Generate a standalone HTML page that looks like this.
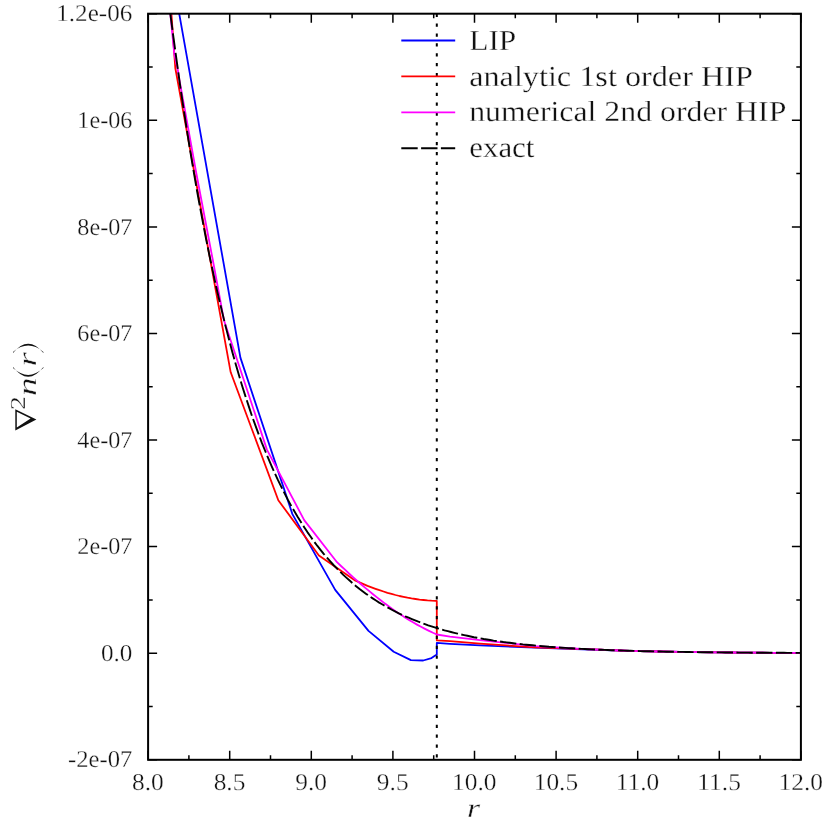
<!DOCTYPE html>
<html><head><meta charset="utf-8"><title>plot</title>
<style>html,body{margin:0;padding:0;background:#fff;}svg{display:block;will-change:transform;}text{text-rendering:geometricPrecision;font-family:"Liberation Serif",serif;fill:#111;stroke:#fff;stroke-width:0.3;}</style></head><body>
<svg width="830" height="830" viewBox="0 0 830 830">
<rect x="0" y="0" width="830" height="830" fill="#fff"/>
<defs><clipPath id="c"><rect x="148.1" y="13.7" width="652.8" height="746.1"/></clipPath></defs>
<path d="M148.1 759.8V750.8M148.1 13.7V22.7M188.9 759.8V755.2M188.9 13.7V18.3M229.7 759.8V750.8M229.7 13.7V22.7M270.5 759.8V755.2M270.5 13.7V18.3M311.3 759.8V750.8M311.3 13.7V22.7M352.1 759.8V755.2M352.1 13.7V18.3M392.9 759.8V750.8M392.9 13.7V22.7M433.7 759.8V755.2M433.7 13.7V18.3M474.5 759.8V750.8M474.5 13.7V22.7M515.3 759.8V755.2M515.3 13.7V18.3M556.1 759.8V750.8M556.1 13.7V22.7M596.9 759.8V755.2M596.9 13.7V18.3M637.7 759.8V750.8M637.7 13.7V22.7M678.5 759.8V755.2M678.5 13.7V18.3M719.3 759.8V750.8M719.3 13.7V22.7M760.1 759.8V755.2M760.1 13.7V18.3M800.9 759.8V750.8M800.9 13.7V22.7M148.1 759.8H157.1M800.9 759.8H791.9M148.1 706.5H152.7M800.9 706.5H796.3M148.1 653.2H157.1M800.9 653.2H791.9M148.1 599.9H152.7M800.9 599.9H796.3M148.1 546.6H157.1M800.9 546.6H791.9M148.1 493.3H152.7M800.9 493.3H796.3M148.1 440.0H157.1M800.9 440.0H791.9M148.1 386.8H152.7M800.9 386.8H796.3M148.1 333.5H157.1M800.9 333.5H791.9M148.1 280.2H152.7M800.9 280.2H796.3M148.1 226.9H157.1M800.9 226.9H791.9M148.1 173.6H152.7M800.9 173.6H796.3M148.1 120.3H157.1M800.9 120.3H791.9M148.1 67.0H152.7M800.9 67.0H796.3M148.1 13.7H157.1M800.9 13.7H791.9" stroke="#000" stroke-width="1.5" fill="none"/>
<g clip-path="url(#c)" fill="none" stroke-linejoin="round">
<polyline points="172.3,-25.0 179.2,13.7 240.4,357.6 292.4,514.1 335.2,589.9 368.5,630.9 393.7,651.7 410.9,660.1 423.2,660.5 431.5,658.1 436.8,654.4 436.8,642.9 450.0,643.8 480.0,645.4 535.0,647.7 575.0,649.0 620.0,650.5 630.0,650.8 640.0,651.1 650.0,651.3 660.0,651.5 670.0,651.7 680.0,651.9 690.0,652.0 700.0,652.2 710.0,652.3 720.0,652.4 730.0,652.5 740.0,652.6 750.0,652.7 760.0,652.7 770.0,652.8 780.0,652.8 790.0,652.9 800.0,652.9 800.9,652.9" stroke="#0000ff" stroke-width="1.8"/>
<polyline points="168.5,-25.0 171.4,13.7 175.3,68.0 230.7,372.3 278.3,500.2 318.9,555.5 355.5,580.7 359.5,582.4 363.5,584.1 367.5,585.8 371.5,587.3 375.5,588.8 379.5,590.2 383.5,591.5 387.5,592.8 391.5,593.9 395.5,595.0 399.5,596.0 403.5,596.8 407.5,597.7 411.5,598.4 415.5,599.0 419.5,599.6 423.5,600.0 427.5,600.4 431.5,600.7 435.5,600.9 436.8,600.9 436.8,640.4 450.0,641.1 480.0,643.7 535.0,647.4 570.0,648.6 600.0,649.7 610.0,650.1 620.0,650.5 630.0,650.8 640.0,651.1 650.0,651.3 660.0,651.5 670.0,651.7 680.0,651.9 690.0,652.0 700.0,652.2 710.0,652.3 720.0,652.4 730.0,652.5 740.0,652.6 750.0,652.7 760.0,652.7 770.0,652.8 780.0,652.8 790.0,652.9 800.0,652.9 800.9,652.9" stroke="#ff0000" stroke-width="1.8"/>
<polyline points="166.4,-25.0 170.3,13.7 174.3,54.0 177.9,70.4 179.4,80.0 184.7,109.0 195.7,170.0 212.8,260.0 223.9,320.0 266.9,449.6 304.2,520.1 337.0,562.2 341.0,566.0 345.0,569.7 349.0,573.5 353.0,577.1 357.0,580.7 361.0,584.2 365.0,587.6 369.0,590.9 373.0,594.2 377.0,597.4 381.0,600.5 385.0,603.6 389.0,606.5 393.0,609.4 397.0,612.2 401.0,614.8 405.0,617.4 409.0,619.9 413.0,622.3 417.0,624.6 421.0,626.8 425.0,628.9 429.0,630.9 433.0,632.8 436.8,634.5 450.0,636.6 480.0,640.1 535.0,646.2 560.0,647.6 570.0,648.2 580.0,648.8 590.0,649.3 600.0,649.7 610.0,650.1 620.0,650.5 630.0,650.8 640.0,651.1 650.0,651.3 660.0,651.5 670.0,651.7 680.0,651.9 690.0,652.0 700.0,652.2 710.0,652.3 720.0,652.4 730.0,652.5 740.0,652.6 750.0,652.7 760.0,652.7 770.0,652.8 780.0,652.8 790.0,652.9 800.0,652.9 800.9,652.9" stroke="#ff00ff" stroke-width="1.8"/>
<polyline points="170.3,13.7 173.6,38.5 176.9,62.4 180.1,85.4 183.4,107.4 186.7,128.6 189.9,149.0 193.2,168.6 196.4,187.4 199.7,205.5 203.0,222.9 206.2,239.6 209.5,255.7 212.8,271.1 216.0,286.0 219.3,300.2 222.6,313.9 225.8,327.1 229.1,339.8 232.3,352.0 235.6,363.7 238.9,374.9 242.1,385.7 245.4,396.1 248.7,406.1 251.9,415.7 255.2,424.9 258.5,433.8 261.7,442.3 265.0,450.5 268.3,458.4 271.5,465.9 274.8,473.2 278.0,480.2 281.3,486.9 284.6,493.4 287.8,499.6 291.1,505.6 294.4,511.3 297.6,516.8 300.9,522.1 304.2,527.2 307.4,532.1 310.7,536.8 313.9,541.3 317.2,545.7 320.5,549.8 323.7,553.9 327.0,557.7 330.3,561.4 333.5,565.0 336.8,568.4 340.1,571.7 343.3,574.9 346.6,577.9 349.9,580.8 353.1,583.7 356.4,586.4 359.6,589.0 362.9,591.5 366.2,593.9 369.4,596.2 372.7,598.4 376.0,600.5 379.2,602.6 382.5,604.5 385.8,606.4 389.0,608.2 392.3,610.0 395.5,611.7 398.8,613.3 402.1,614.8 405.3,616.3 408.6,617.7 411.9,619.1 415.1,620.4 418.4,621.7 421.7,622.9 424.9,624.1 428.2,625.3 431.5,626.3 434.7,627.4 438.0,628.4 441.2,629.3 444.5,630.3 447.8,631.2 451.0,632.0 454.3,632.8 457.6,633.6 460.8,634.4 464.1,635.1 467.4,635.8 470.6,636.5 473.9,637.2 477.1,637.8 480.4,638.4 483.7,639.0 486.9,639.5 490.2,640.0 493.5,640.6 496.7,641.0 500.0,641.5 503.3,642.0 506.5,642.4 509.8,642.8 513.1,643.2 516.3,643.6 519.6,644.0 522.8,644.4 526.1,644.7 529.4,645.0 532.6,645.3 535.9,645.6 539.2,645.9 542.4,646.2 545.7,646.5 549.0,646.8 552.2,647.0 555.5,647.2 558.7,647.5 562.0,647.7 565.3,647.9 568.5,648.1 571.8,648.3 575.1,648.5 578.3,648.7 581.6,648.9 584.9,649.0 588.1,649.2 591.4,649.4 594.7,649.5 597.9,649.7 601.2,649.8 604.4,649.9 607.7,650.0 611.0,650.2 614.2,650.3 617.5,650.4 620.8,650.5 624.0,650.6 627.3,650.7 630.6,650.8 633.8,650.9 637.1,651.0 640.3,651.1 643.6,651.2 646.9,651.2 650.1,651.3 653.4,651.4 656.7,651.5 659.9,651.5 663.2,651.6 666.5,651.7 669.7,651.7 673.0,651.8 676.3,651.8 679.5,651.9 682.8,651.9 686.0,652.0 689.3,652.0 692.6,652.1 695.8,652.1 699.1,652.2 702.4,652.2 705.6,652.3 708.9,652.3 712.2,652.3 715.4,652.4 718.7,652.4 721.9,652.4 725.2,652.5 728.5,652.5 731.7,652.5 735.0,652.5 738.3,652.6 741.5,652.6 744.8,652.6 748.1,652.6 751.3,652.7 754.6,652.7 757.9,652.7 761.1,652.7 764.4,652.7 767.6,652.8 770.9,652.8 774.2,652.8 777.4,652.8 780.7,652.8 784.0,652.8 787.2,652.9 790.5,652.9 793.8,652.9 797.0,652.9 800.3,652.9" stroke="#000" stroke-width="1.9" stroke-dasharray="16.33 3.4"/>
</g>
<line x1="436.8" y1="13.7" x2="436.8" y2="759.8" stroke="#000" stroke-width="2" stroke-dasharray="3.2 6.675"/>
<rect x="148.1" y="13.7" width="652.8" height="746.1" fill="none" stroke="#000" stroke-width="2"/>
<text transform="translate(132.4,21.3) scale(1.04,1)" font-size="24.2" stroke-width="0" text-anchor="end">1.2e-06</text>
<text transform="translate(132.4,127.9) scale(1.0,1)" font-size="24.2" stroke-width="0" text-anchor="end">1e-06</text>
<text transform="translate(132.4,234.5) scale(1.0,1)" font-size="24.2" stroke-width="0" text-anchor="end">8e-07</text>
<text transform="translate(132.4,341.1) scale(1.0,1)" font-size="24.2" stroke-width="0" text-anchor="end">6e-07</text>
<text transform="translate(132.4,447.6) scale(1.0,1)" font-size="24.2" stroke-width="0" text-anchor="end">4e-07</text>
<text transform="translate(132.4,554.2) scale(1.0,1)" font-size="24.2" stroke-width="0" text-anchor="end">2e-07</text>
<text transform="translate(132.4,660.8) scale(1.04,1)" font-size="24.2" stroke-width="0" text-anchor="end">0.0</text>
<text transform="translate(132.4,767.4) scale(1.02,1)" font-size="24.2" stroke-width="0" text-anchor="end">-2e-07</text>
<text transform="translate(147.9,790.0) scale(1.05,1)" font-size="24.2" stroke-width="0" text-anchor="middle">8.0</text>
<text transform="translate(229.5,790.0) scale(1.05,1)" font-size="24.2" stroke-width="0" text-anchor="middle">8.5</text>
<text transform="translate(311.1,790.0) scale(1.05,1)" font-size="24.2" stroke-width="0" text-anchor="middle">9.0</text>
<text transform="translate(392.7,790.0) scale(1.05,1)" font-size="24.2" stroke-width="0" text-anchor="middle">9.5</text>
<text transform="translate(474.3,790.0) scale(1.05,1)" font-size="24.2" stroke-width="0" text-anchor="middle">10.0</text>
<text transform="translate(555.9,790.0) scale(1.05,1)" font-size="24.2" stroke-width="0" text-anchor="middle">10.5</text>
<text transform="translate(637.5,790.0) scale(1.05,1)" font-size="24.2" stroke-width="0" text-anchor="middle">11.0</text>
<text transform="translate(719.1,790.0) scale(1.05,1)" font-size="24.2" stroke-width="0" text-anchor="middle">11.5</text>
<text transform="translate(800.7,790.0) scale(1.05,1)" font-size="24.2" stroke-width="0" text-anchor="middle">12.0</text>
<text transform="translate(473.6,817) scale(1.27,1)" font-size="26.5" font-style="italic" text-anchor="middle">r</text>
<line x1="401.3" y1="40.5" x2="455.2" y2="40.5" stroke="#0000ff" stroke-width="1.8"/>
<text transform="translate(469.2,49.6) scale(1.083,1)" font-size="29">LIP</text>
<line x1="401.3" y1="76.4" x2="455.2" y2="76.4" stroke="#ff0000" stroke-width="1.8"/>
<text transform="translate(469.2,85.5) scale(1.111,1)" font-size="29">analytic 1st order HIP</text>
<line x1="401.3" y1="112.3" x2="455.2" y2="112.3" stroke="#ff00ff" stroke-width="1.8"/>
<text transform="translate(469.2,121.4) scale(1.097,1)" font-size="29">numerical 2nd order HIP</text>
<line x1="401.3" y1="148.2" x2="455.2" y2="148.2" stroke="#000" stroke-width="1.9" stroke-dasharray="16.4 3.4"/>
<text transform="translate(469.2,157.3) scale(1.066,1)" font-size="29">exact</text>
<g transform="translate(36.2,430.5) rotate(-90)">
<path d="M0 -20.9 L21.3 -20.9 L10.9 0.2 Z M3.1 -19.4 L18.8 -19.4 L12.0 -5.6 Z" fill="#111" fill-rule="evenodd"/>
<text transform="translate(20.5,-11.2) scale(1.3,1)" font-size="21.3" stroke-width="0.15">2</text>
<text transform="translate(34.6,0) scale(1.4,1)" font-size="26.5" font-style="italic">n</text>
<path d="M63.6 -23.2 Q44.0 -8 63.6 7.2 L62.4 7.2 Q48.8 -8 62.4 -23.2 Z" fill="#111"/>
<text transform="translate(63.9,0) scale(1.4,1)" font-size="26.5" font-style="italic">r</text>
<path d="M77.4 -23.2 Q96.0 -8 77.4 7.2 L78.6 7.2 Q91.2 -8 78.6 -23.2 Z" fill="#111"/>
</g>
</svg></body></html>
